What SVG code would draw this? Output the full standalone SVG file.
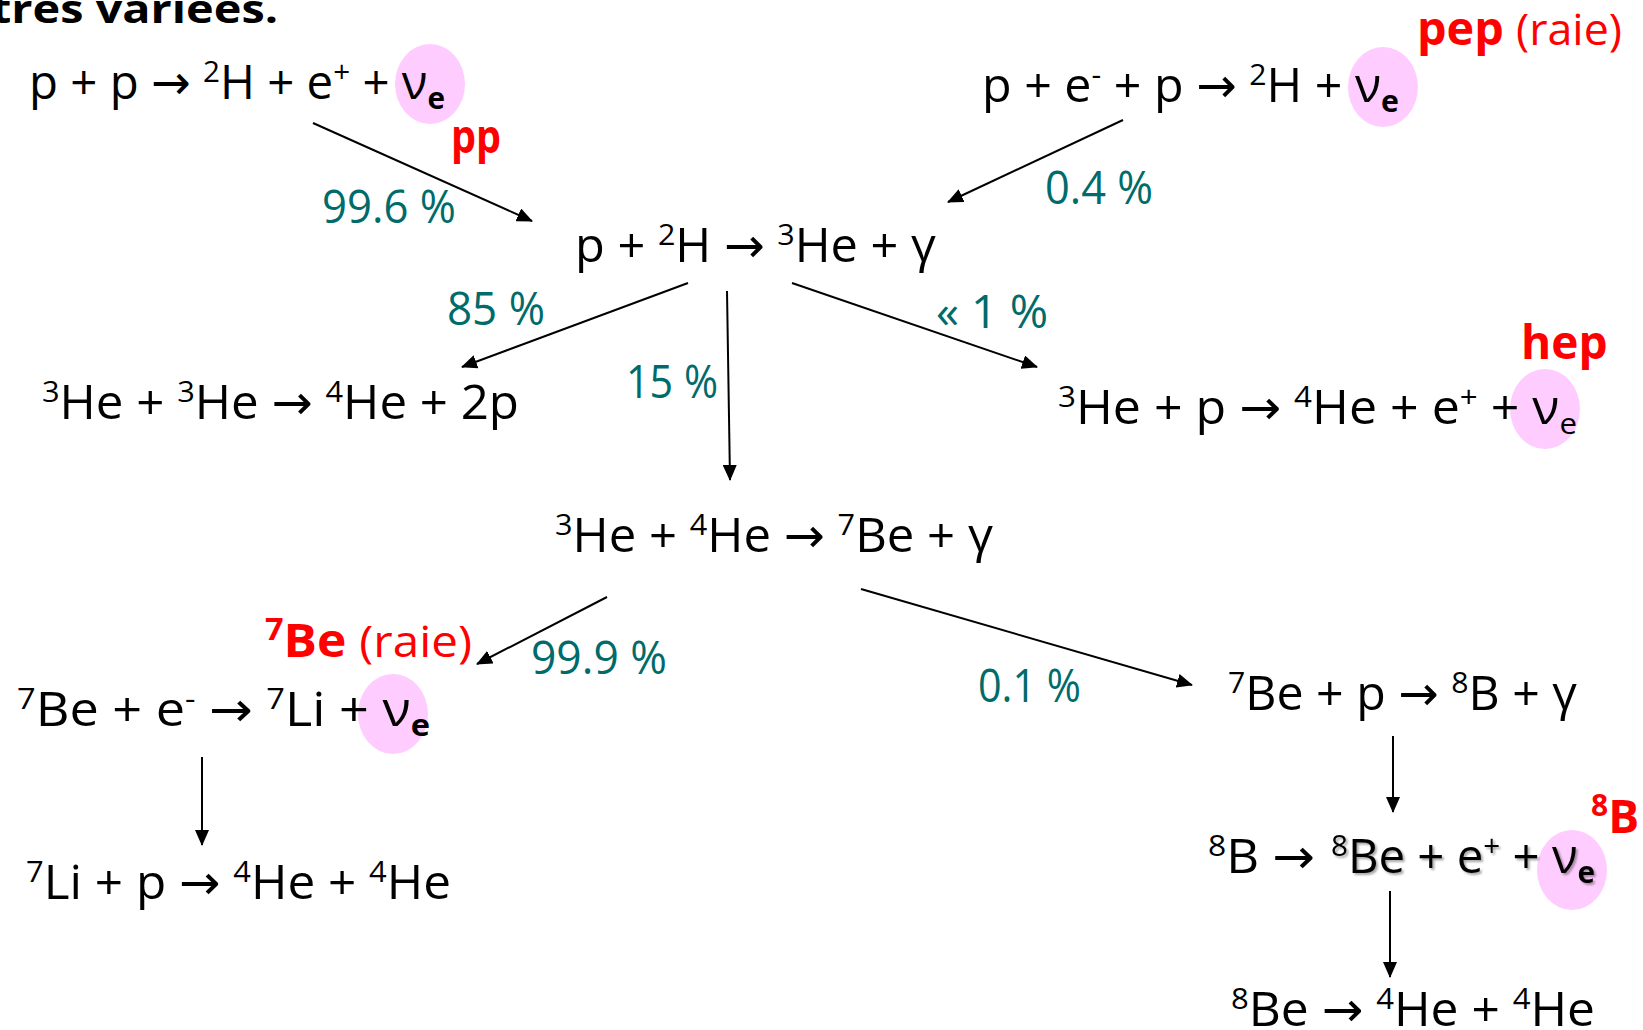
<svg xmlns="http://www.w3.org/2000/svg" width="1643" height="1030" viewBox="0 0 1643 1030">
<defs>
<style>
text{font-family:"Open Sans","DejaVu Sans",sans-serif}
.eq{font-size:48px;fill:#000}
.sup{font-size:30px}
.sub{font-size:30px;font-weight:bold}
.subn{font-size:30px}
.pct{font-size:46px;fill:#006b6b}
.lab{font-size:46px;fill:#ff0000;font-weight:bold}
.raie{font-size:44px;fill:#ff0000;font-weight:normal}
.nu{fill:#ffccff}
.conn line{stroke:#000;stroke-width:2;marker-end:url(#ah)}
</style>
<marker id="ah" viewBox="0 0 16 14" refX="15" refY="7" markerWidth="16" markerHeight="14" markerUnits="userSpaceOnUse" orient="auto">
<path d="M0,0 L16,7 L0,14 z" fill="#000"/>
</marker>
<filter id="sh" x="-5%" y="-20%" width="110%" height="140%">
<feDropShadow dx="2" dy="2" stdDeviation="1.2" flood-color="#000" flood-opacity="0.35"/>
</filter>
</defs>
<rect width="1643" height="1030" fill="#fff"/>
<text x="-9" y="23" textLength="287" lengthAdjust="spacingAndGlyphs" style="font-size:40px;font-weight:bold">très variées.</text>

<g class="conn" id="connectors">
<line x1="313" y1="123" x2="532" y2="221"/>
<line x1="1123" y1="120" x2="948" y2="202"/>
<line x1="688" y1="283" x2="462" y2="367"/>
<line x1="727" y1="291" x2="730" y2="480"/>
<line x1="792" y1="283" x2="1037" y2="367"/>
<line x1="607" y1="597" x2="477" y2="664"/>
<line x1="861" y1="589" x2="1192" y2="685"/>
<line x1="202" y1="757" x2="202" y2="845"/>
<line x1="1393" y1="736" x2="1393" y2="812"/>
<line x1="1390" y1="891" x2="1390" y2="977"/>
</g>

<g id="labels">
<text class="pct" x="322" y="223" textLength="134" lengthAdjust="spacingAndGlyphs">99.6 %</text>
<text class="pct" x="1045" y="204" textLength="108" lengthAdjust="spacingAndGlyphs">0.4 %</text>
<text class="pct" x="447" y="325" textLength="98" lengthAdjust="spacingAndGlyphs">85 %</text>
<text class="pct" x="626" y="398" textLength="92" lengthAdjust="spacingAndGlyphs">15 %</text>
<text class="pct" x="936" y="328" textLength="112" lengthAdjust="spacingAndGlyphs">« 1 %</text>
<text class="pct" x="531" y="674" textLength="136" lengthAdjust="spacingAndGlyphs">99.9 %</text>
<text class="pct" x="978" y="702" textLength="103" lengthAdjust="spacingAndGlyphs">0.1 %</text>
</g>

<g id="n-pp">
<ellipse class="nu" cx="430" cy="84" rx="35" ry="40"/>
<text class="eq" x="29" y="99" textLength="416" lengthAdjust="spacingAndGlyphs">p + p → <tspan class="sup" dy="-17">2</tspan><tspan dy="17">H + e</tspan><tspan class="sup" dy="-17">+</tspan><tspan dy="17"> + ν</tspan><tspan class="sub" dy="10">e</tspan></text>
<text class="lab" x="451" y="153" textLength="50" lengthAdjust="spacingAndGlyphs">pp</text>
</g>

<g id="n-pep">
<ellipse class="nu" cx="1383" cy="87" rx="35" ry="40"/>
<text class="eq" x="982" y="102" textLength="417" lengthAdjust="spacingAndGlyphs">p + e<tspan class="sup" dy="-17">-</tspan><tspan dy="17"> + p → </tspan><tspan class="sup" dy="-17">2</tspan><tspan dy="17">H + ν</tspan><tspan class="sub" dy="10">e</tspan></text>
<text class="lab" x="1417" y="45" textLength="205" lengthAdjust="spacingAndGlyphs">pep <tspan class="raie">(raie)</tspan></text>
</g>

<g id="n-pd">
<text class="eq" x="575" y="262" textLength="361" lengthAdjust="spacingAndGlyphs">p + <tspan class="sup" dy="-17">2</tspan><tspan dy="17">H → </tspan><tspan class="sup" dy="-17">3</tspan><tspan dy="17">He + γ</tspan></text>
</g>

<g id="n-he3he3">
<text class="eq" x="42" y="419" textLength="477" lengthAdjust="spacingAndGlyphs"><tspan class="sup" dy="-17">3</tspan><tspan dy="17">He + </tspan><tspan class="sup" dy="-17">3</tspan><tspan dy="17">He → </tspan><tspan class="sup" dy="-17">4</tspan><tspan dy="17">He + 2p</tspan></text>
</g>

<g id="n-hep">
<ellipse class="nu" cx="1545" cy="409" rx="35" ry="40"/>
<text class="eq" x="1058" y="424" textLength="519" lengthAdjust="spacingAndGlyphs"><tspan class="sup" dy="-17">3</tspan><tspan dy="17">He + p → </tspan><tspan class="sup" dy="-17">4</tspan><tspan dy="17">He + e</tspan><tspan class="sup" dy="-17">+</tspan><tspan dy="17"> + ν</tspan><tspan class="subn" dy="10">e</tspan></text>
<text class="lab" x="1521" y="359">hep</text>
</g>

<g id="n-he3he4">
<text class="eq" x="555" y="552" textLength="438" lengthAdjust="spacingAndGlyphs"><tspan class="sup" dy="-17">3</tspan><tspan dy="17">He + </tspan><tspan class="sup" dy="-17">4</tspan><tspan dy="17">He → </tspan><tspan class="sup" dy="-17">7</tspan><tspan dy="17">Be + γ</tspan></text>
</g>

<g id="n-be7e">
<ellipse class="nu" cx="393" cy="714" rx="35" ry="40"/>
<text class="eq" x="17" y="726" textLength="413" lengthAdjust="spacingAndGlyphs"><tspan class="sup" dy="-17">7</tspan><tspan dy="17">Be + e</tspan><tspan class="sup" dy="-17">-</tspan><tspan dy="17"> → </tspan><tspan class="sup" dy="-17">7</tspan><tspan dy="17">Li + ν</tspan><tspan class="sub" dy="10">e</tspan></text>
<text class="lab" x="265" y="657" textLength="207" lengthAdjust="spacingAndGlyphs"><tspan style="font-size:30px" dy="-17">7</tspan><tspan dy="17">Be </tspan><tspan class="raie">(raie)</tspan></text>
</g>

<g id="n-li7p">
<text class="eq" x="26" y="899" textLength="425" lengthAdjust="spacingAndGlyphs"><tspan class="sup" dy="-17">7</tspan><tspan dy="17">Li + p → </tspan><tspan class="sup" dy="-17">4</tspan><tspan dy="17">He + </tspan><tspan class="sup" dy="-17">4</tspan><tspan dy="17">He</tspan></text>
</g>

<g id="n-be7p">
<text class="eq" x="1228" y="710" textLength="349" lengthAdjust="spacingAndGlyphs"><tspan class="sup" dy="-17">7</tspan><tspan dy="17">Be + p → </tspan><tspan class="sup" dy="-17">8</tspan><tspan dy="17">B + γ</tspan></text>
</g>

<g id="n-b8">
<ellipse class="nu" cx="1572" cy="870" rx="35" ry="40"/>
<text class="eq" x="1208" y="873" textLength="107" lengthAdjust="spacingAndGlyphs"><tspan class="sup" dy="-17">8</tspan><tspan dy="17">B →</tspan></text>
<text class="eq" x="1331" y="873" filter="url(#sh)" textLength="264" lengthAdjust="spacingAndGlyphs"><tspan class="sup" dy="-17">8</tspan><tspan dy="17">Be + e</tspan><tspan class="sup" dy="-17">+</tspan><tspan dy="17"> + ν</tspan><tspan class="sub" dy="10">e</tspan></text>
<text class="lab" x="1591" y="833"><tspan style="font-size:30px" dy="-17">8</tspan><tspan dy="17">B</tspan></text>
</g>

<g id="n-be8">
<text class="eq" x="1231" y="1026" textLength="364" lengthAdjust="spacingAndGlyphs"><tspan class="sup" dy="-17">8</tspan><tspan dy="17">Be → </tspan><tspan class="sup" dy="-17">4</tspan><tspan dy="17">He + </tspan><tspan class="sup" dy="-17">4</tspan><tspan dy="17">He</tspan></text>
</g>
</svg>
